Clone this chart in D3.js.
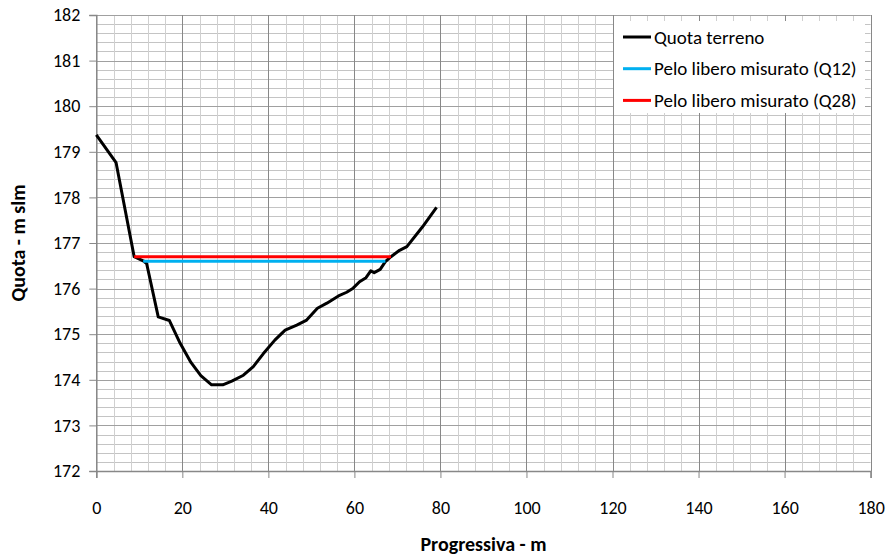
<!DOCTYPE html>
<html lang="en">
	<head>
		<meta charset="utf-8">
		<title>Sezione - quota terreno e pelo libero</title>
		<style type="text/css">
			body { margin: 0; background: #fff; }
			text { font-family: Carlito, Calibri, "Noto Sans", sans-serif; }
		</style>
	</head>
	<body>
		<script src="https://d3js.org/d3.v7.min.js"></script>
		<script>
			//Width and height
			var w = 892;
			var h = 558;
			var margin = { left: 96.3, right: 21.4, top: 15, bottom: 87 };

			//Data
			var progressiva = [0, 4.6, 8.8, 10.9, 11.7, 14.4, 17.0, 19.5, 22.0, 24.3,
							   26.8, 29.4, 31.5, 34.2, 36.5, 38.8, 41.5, 43.9, 46.6, 48.9,
							   51.4, 53.6, 56.3, 58.2, 59.7, 61.2, 62.7, 63.8, 64.6, 66.0,
							   67.2, 68.5, 70.5, 72.2, 75.8, 79.1];
			var quota = [179.37, 178.76, 176.70, 176.61, 176.55, 175.38, 175.30, 174.80, 174.38, 174.09,
						 173.89, 173.89, 173.97, 174.10, 174.29, 174.57, 174.87, 175.09, 175.20, 175.31,
						 175.57, 175.68, 175.84, 175.92, 176.01, 176.15, 176.24, 176.39, 176.35, 176.42,
						 176.59, 176.70, 176.84, 176.92, 177.35, 177.78];
			var peloQ12X = [10.9, 67.2];
			var peloQ12Y = [176.6, 176.6];
			var peloQ28X = [8.8, 68.5];
			var peloQ28Y = [176.7, 176.7];

			var xTicks = [0, 20, 40, 60, 80, 100, 120, 140, 160, 180];
			var yTicks = [172, 173, 174, 175, 176, 177, 178, 179, 180, 181, 182];
			var seriesNames = ["Quota terreno", "Pelo libero misurato (Q12)", "Pelo libero misurato (Q28)"];
			var seriesColors = ["#000000", "#00b0f0", "#ff0000"];

			var xScale = d3.scaleLinear()
							.domain([0, 180])
							.range([margin.left, w - margin.right]);
			var yScale = d3.scaleLinear()
							.domain([172, 182])
							.range([h - margin.bottom, margin.top]);

			//Create SVG element
			var svg = d3.select("body")
						.append("svg")
						.attr("width", w)
						.attr("height", h);

			//Minor grid
			var xMinor = d3.range(0, 181, 4);
			var yMinor = d3.range(0, 51).map(function(i) { return 172 + i * 0.2; });
			svg.append("g")
			   .selectAll("line")
			   .data(yMinor)
			   .enter()
			   .append("line")
			   .attr("x1", xScale(0))
			   .attr("x2", xScale(180))
			   .attr("y1", function(d) { return Math.round(yScale(d)) + 0.5; })
			   .attr("y2", function(d) { return Math.round(yScale(d)) + 0.5; })
			   .attr("stroke", "#c4c4c4")
			   .attr("stroke-width", 1);
			svg.append("g")
			   .selectAll("line")
			   .data(xMinor)
			   .enter()
			   .append("line")
			   .attr("x1", function(d) { return Math.round(xScale(d)) + 0.5; })
			   .attr("x2", function(d) { return Math.round(xScale(d)) + 0.5; })
			   .attr("y1", yScale(172))
			   .attr("y2", yScale(182))
			   .attr("stroke", "#d0d0d0")
			   .attr("stroke-width", 1);

			//Major grid
			svg.append("g")
			   .selectAll("line")
			   .data(yTicks)
			   .enter()
			   .append("line")
			   .attr("x1", xScale(0))
			   .attr("x2", xScale(180))
			   .attr("y1", function(d) { return Math.round(yScale(d)) + 0.5; })
			   .attr("y2", function(d) { return Math.round(yScale(d)) + 0.5; })
			   .attr("stroke", "#a0a0a0")
			   .attr("stroke-width", 1);
			svg.append("g")
			   .selectAll("line")
			   .data(xTicks)
			   .enter()
			   .append("line")
			   .attr("x1", function(d) { return Math.round(xScale(d)) + 0.5; })
			   .attr("x2", function(d) { return Math.round(xScale(d)) + 0.5; })
			   .attr("y1", yScale(172))
			   .attr("y2", yScale(182))
			   .attr("stroke", "#888888")
			   .attr("stroke-width", 1);

			//Axes
			var xAxis = d3.axisBottom(xScale)
						  .tickValues(xTicks)
						  .tickSize(7)
						  .tickPadding(23);
			var yAxis = d3.axisLeft(yScale)
						  .tickValues(yTicks)
						  .tickSize(7)
						  .tickPadding(9);

			var gx = svg.append("g")
						.attr("transform", "translate(0," + yScale(172) + ")")
						.call(xAxis);
			var gy = svg.append("g")
						.attr("transform", "translate(" + xScale(0) + ",0)")
						.call(yAxis);
			[gx, gy].forEach(function(g) {
				g.selectAll("path").attr("stroke", "#888888").attr("stroke-width", 1.5);
				g.selectAll("line").attr("stroke", "#888888");
				g.selectAll("text")
				 .attr("font-family", "Carlito, Calibri, 'Noto Sans', sans-serif")
				 .attr("font-size", "18px")
				 .attr("fill", "#000");
			});

			//Plot lines
			var line = d3.line()
						 .x(function(d) { return xScale(d[0]); })
						 .y(function(d) { return yScale(d[1]); });

			var series = [
				d3.zip(progressiva, quota),
				d3.zip(peloQ12X, peloQ12Y),
				d3.zip(peloQ28X, peloQ28Y)
			];
			svg.append("g")
			   .selectAll("path")
			   .data(series)
			   .enter()
			   .append("path")
			   .attr("d", line)
			   .attr("fill", "none")
			   .attr("stroke", function(d, i) { return seriesColors[i]; })
			   .attr("stroke-width", 3)
			   .attr("stroke-linejoin", "round");

			//Legend
			var legend = svg.append("g");
			legend.append("rect")
				  .attr("x", 614)
				  .attr("y", 21)
				  .attr("width", 251)
				  .attr("height", 92)
				  .attr("fill", "#fff");
			var rows = legend.selectAll("g")
							 .data(seriesNames)
							 .enter()
							 .append("g")
							 .attr("transform", function(d, i) {
							 	return "translate(623," + (37 + i * 31.7) + ")";
							 });
			rows.append("line")
				.attr("x1", 0)
				.attr("x2", 28)
				.attr("stroke", function(d, i) { return seriesColors[i]; })
				.attr("stroke-width", 3);
			rows.append("text")
				.attr("x", 31)
				.attr("dy", "0.35em")
				.attr("font-size", "19px")
				.text(function(d) { return d; });

			//Axis titles
			svg.append("text")
			   .attr("x", (xScale(0) + xScale(180)) / 2)
			   .attr("y", 544)
			   .attr("dy", "0.35em")
			   .attr("text-anchor", "middle")
			   .attr("font-size", "20px")
			   .attr("font-weight", "bold")
			   .text("Progressiva - m");
			svg.append("text")
			   .attr("transform", "translate(18," + (yScale(172) + yScale(182)) / 2 + ") rotate(-90)")
			   .attr("dy", "0.35em")
			   .attr("text-anchor", "middle")
			   .attr("font-size", "20px")
			   .attr("font-weight", "bold")
			   .text("Quota - m slm");
		</script>
	</body>
</html>
